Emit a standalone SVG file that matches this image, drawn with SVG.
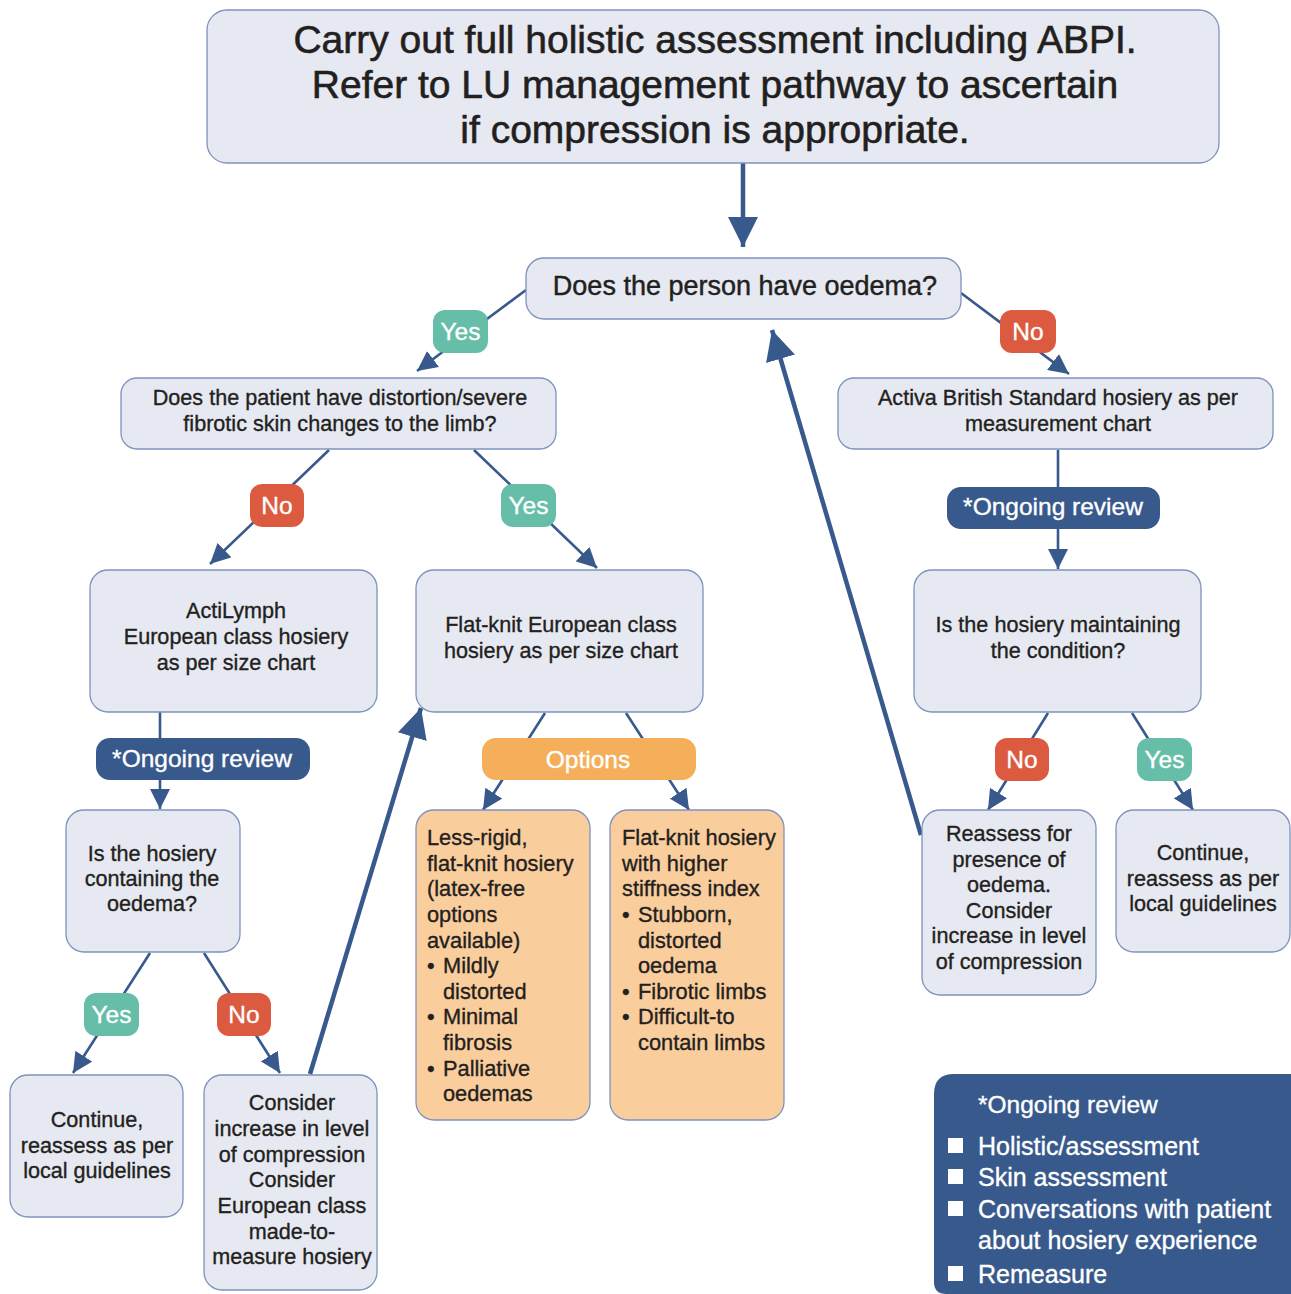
<svg xmlns="http://www.w3.org/2000/svg" width="1291" height="1294" viewBox="0 0 1291 1294">
<defs>
<marker id="ah" markerUnits="userSpaceOnUse" markerWidth="20" markerHeight="20" refX="16" refY="8" orient="auto" viewBox="0 0 16 16"><path d="M0,0 L16,8 L0,16 z" fill="#38598B"/></marker>
<marker id="ahb" markerUnits="userSpaceOnUse" markerWidth="30" markerHeight="30" refX="24" refY="12" orient="auto" viewBox="0 0 24 24"><path d="M0,0 L24,12 L0,24 z" fill="#38598B"/></marker>
</defs>
<style>
text{font-family:"Liberation Sans",Arial,sans-serif;fill:#231F20;stroke:#231F20;stroke-width:0.35}
.box{fill:#E6E9F1;stroke:#7E93BD;stroke-width:1.3}
.obox{fill:#FACD9C;stroke:#7E93BD;stroke-width:1.3}
.t{font-size:21.6px;text-anchor:middle}
.tl{font-size:21.8px}
.ln{stroke:#38598B;stroke-width:2.6;fill:none}
.lnb{stroke:#38598B;stroke-width:4.5;fill:none}
.yes{fill:#66BEA8}
.no{fill:#DC5A40}
.pill{fill:#38598B}
.bt{font-size:24.5px;fill:#fff;stroke:#fff;text-anchor:middle}
.lg{font-size:25px;fill:#fff;stroke:#fff}
</style>
<rect width="1291" height="1294" fill="#fff"/>
<g id="connectors">
<line class="lnb" x1="743" y1="163" x2="743" y2="247" marker-end="url(#ahb)"/>
<line class="ln" x1="526" y1="290" x2="417" y2="371" marker-end="url(#ah)"/>
<line class="ln" x1="961" y1="293" x2="1069" y2="374" marker-end="url(#ah)"/>
<line class="ln" x1="329" y1="450" x2="210" y2="564" marker-end="url(#ah)"/>
<line class="ln" x1="474" y1="450" x2="597" y2="568" marker-end="url(#ah)"/>
<line class="ln" x1="1058" y1="450" x2="1058" y2="569" marker-end="url(#ah)"/>
<line class="ln" x1="160" y1="712" x2="160" y2="809" marker-end="url(#ah)"/>
<line class="ln" x1="545" y1="713" x2="483" y2="810" marker-end="url(#ah)"/>
<line class="ln" x1="626" y1="713" x2="689" y2="810" marker-end="url(#ah)"/>
<line class="ln" x1="1048" y1="713" x2="988" y2="810" marker-end="url(#ah)"/>
<line class="ln" x1="1132" y1="713" x2="1193" y2="810" marker-end="url(#ah)"/>
<line class="ln" x1="150" y1="953" x2="73" y2="1073" marker-end="url(#ah)"/>
<line class="ln" x1="204" y1="953" x2="280" y2="1073" marker-end="url(#ah)"/>
<line class="lnb" x1="921" y1="835" x2="772" y2="330" marker-end="url(#ahb)"/>
<line class="lnb" x1="310" y1="1074" x2="421" y2="708" marker-end="url(#ahb)"/>
</g>
<g id="n-top"><rect class="box" x="207" y="10" width="1012" height="153" rx="20"/>
<text x="715" y="53" font-size="39" text-anchor="middle" style="stroke-width:0.6">Carry out full holistic assessment including ABPI.</text>
<text x="715" y="98" font-size="39" text-anchor="middle" style="stroke-width:0.6">Refer to LU management pathway to ascertain</text>
<text x="715" y="143" font-size="39" text-anchor="middle" style="stroke-width:0.6">if compression is appropriate.</text></g>
<g id="n-oedema"><rect class="box" x="526" y="258" width="435" height="61" rx="18"/>
<text x="745" y="295" font-size="27" text-anchor="middle" style="stroke-width:0.45">Does the person have oedema?</text></g>
<g id="b-yes1"><rect class="yes" x="433" y="310" width="55" height="43" rx="12"/><text class="bt" x="460.5" y="340">Yes</text></g>
<g id="b-no1"><rect class="no" x="1000" y="310" width="56" height="43" rx="12"/><text class="bt" x="1028" y="340">No</text></g>
<g id="n-distortion"><rect class="box" x="121" y="378" width="435" height="71" rx="16"/>
<text class="t" x="340" y="405">Does the patient have distortion/severe</text>
<text class="t" x="340" y="431">fibrotic skin changes to the limb?</text></g>
<g id="n-activa"><rect class="box" x="838" y="378" width="435" height="71" rx="16"/>
<text class="t" x="1058" y="405">Activa British Standard hosiery as per</text>
<text class="t" x="1058" y="431">measurement chart</text></g>
<g id="b-no2"><rect class="no" x="250" y="484" width="54" height="43" rx="12"/><text class="bt" x="277" y="514">No</text></g>
<g id="b-yes2"><rect class="yes" x="501" y="484" width="55" height="43" rx="12"/><text class="bt" x="528.5" y="514">Yes</text></g>
<g id="p-review-r"><rect class="pill" x="947" y="487" width="213" height="42" rx="14"/><text class="bt" x="1053" y="515">*Ongoing review</text></g>
<g id="n-actilymph"><rect class="box" x="90" y="570" width="287" height="142" rx="18"/>
<text class="t" x="236" y="618">ActiLymph</text>
<text class="t" x="236" y="644">European class hosiery</text>
<text class="t" x="236" y="670">as per size chart</text></g>
<g id="n-flatknit"><rect class="box" x="416" y="570" width="287" height="142" rx="18"/>
<text class="t" x="561" y="632">Flat-knit European class</text>
<text class="t" x="561" y="658">hosiery as per size chart</text></g>
<g id="n-maintaining"><rect class="box" x="914" y="570" width="287" height="142" rx="18"/>
<text class="t" x="1058" y="632">Is the hosiery maintaining</text>
<text class="t" x="1058" y="658">the condition?</text></g>
<g id="p-review-l"><rect class="pill" x="96" y="738" width="214" height="42" rx="14"/><text class="bt" x="202" y="767">*Ongoing review</text></g>
<g id="p-options"><rect fill="#F5AF5A" x="482" y="738" width="214" height="42" rx="14"/><text class="bt" x="588" y="768">Options</text></g>
<g id="b-no3"><rect class="no" x="995" y="738" width="54" height="43" rx="12"/><text class="bt" x="1022" y="768">No</text></g>
<g id="b-yes3"><rect class="yes" x="1137" y="738" width="55" height="43" rx="12"/><text class="bt" x="1164.5" y="768">Yes</text></g>
<g id="n-containing"><rect class="box" x="66" y="810" width="174" height="142" rx="18"/>
<text class="t" x="152" y="861">Is the hosiery</text>
<text class="t" x="152" y="886">containing the</text>
<text class="t" x="152" y="911">oedema?</text></g>
<g id="n-lessrigid"><rect class="obox" x="416" y="810" width="174" height="310" rx="18"/>
<text class="tl" x="427" y="845">Less-rigid,</text>
<text class="tl" x="427" y="871">flat-knit hosiery</text>
<text class="tl" x="427" y="896">(latex-free</text>
<text class="tl" x="427" y="922">options</text>
<text class="tl" x="427" y="948">available)</text>
<text class="tl" x="427" y="973">•</text><text class="tl" x="443" y="973">Mildly</text>
<text class="tl" x="443" y="999">distorted</text>
<text class="tl" x="427" y="1024">•</text><text class="tl" x="443" y="1024">Minimal</text>
<text class="tl" x="443" y="1050">fibrosis</text>
<text class="tl" x="427" y="1076">•</text><text class="tl" x="443" y="1076">Palliative</text>
<text class="tl" x="443" y="1101">oedemas</text></g>
<g id="n-stiffness"><rect class="obox" x="610" y="810" width="174" height="310" rx="18"/>
<text class="tl" x="622" y="845">Flat-knit hosiery</text>
<text class="tl" x="622" y="871">with higher</text>
<text class="tl" x="622" y="896">stiffness index</text>
<text class="tl" x="622" y="922">•</text><text class="tl" x="638" y="922">Stubborn,</text>
<text class="tl" x="638" y="948">distorted</text>
<text class="tl" x="638" y="973">oedema</text>
<text class="tl" x="622" y="999">•</text><text class="tl" x="638" y="999">Fibrotic limbs</text>
<text class="tl" x="622" y="1024">•</text><text class="tl" x="638" y="1024">Difficult-to</text>
<text class="tl" x="638" y="1050">contain limbs</text></g>
<g id="n-reassess"><rect class="box" x="922" y="810" width="174" height="185" rx="18"/>
<text class="t" x="1009" y="841">Reassess for</text>
<text class="t" x="1009" y="867">presence of</text>
<text class="t" x="1009" y="892">oedema.</text>
<text class="t" x="1009" y="918">Consider</text>
<text class="t" x="1009" y="943">increase in level</text>
<text class="t" x="1009" y="969">of compression</text></g>
<g id="n-continue-r"><rect class="box" x="1116" y="810" width="174" height="142" rx="18"/>
<text class="t" x="1203" y="860">Continue,</text>
<text class="t" x="1203" y="886">reassess as per</text>
<text class="t" x="1203" y="911">local guidelines</text></g>
<g id="b-yes4"><rect class="yes" x="84" y="993" width="55" height="43" rx="12"/><text class="bt" x="111.5" y="1023">Yes</text></g>
<g id="b-no4"><rect class="no" x="217" y="993" width="54" height="43" rx="12"/><text class="bt" x="244" y="1023">No</text></g>
<g id="n-continue-l"><rect class="box" x="10" y="1075" width="173" height="142" rx="18"/>
<text class="t" x="97" y="1127">Continue,</text>
<text class="t" x="97" y="1153">reassess as per</text>
<text class="t" x="97" y="1178">local guidelines</text></g>
<g id="n-consider"><rect class="box" x="204" y="1075" width="173" height="215" rx="18"/>
<text class="t" x="292" y="1110">Consider</text>
<text class="t" x="292" y="1136">increase in level</text>
<text class="t" x="292" y="1162">of compression</text>
<text class="t" x="292" y="1187">Consider</text>
<text class="t" x="292" y="1213">European class</text>
<text class="t" x="292" y="1239">made-to-</text>
<text class="t" x="292" y="1264">measure hosiery</text></g>
<g id="legend"><path d="M934,1094 Q934,1074 954,1074 L1291,1074 L1291,1294 L946,1294 Q934,1294 934,1282 Z" fill="#38598B"/>
<text class="lg" x="978" y="1113" style="font-size:24.5px">*Ongoing review</text>
<rect x="948" y="1138" width="15" height="15" fill="#fff"/><text class="lg" x="978" y="1155">Holistic/assessment</text>
<rect x="948" y="1169" width="15" height="15" fill="#fff"/><text class="lg" x="978" y="1186">Skin assessment</text>
<rect x="948" y="1201" width="15" height="15" fill="#fff"/><text class="lg" x="978" y="1218">Conversations with patient</text>
<text class="lg" x="978" y="1249">about hosiery experience</text>
<rect x="948" y="1266" width="15" height="15" fill="#fff"/><text class="lg" x="978" y="1283">Remeasure</text></g>
</svg>
